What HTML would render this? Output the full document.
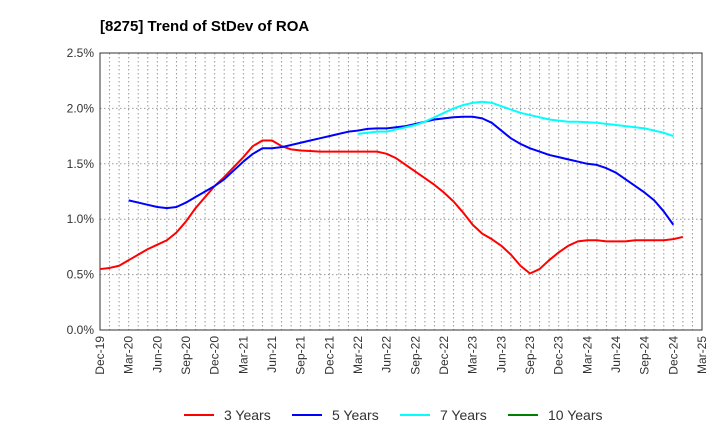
<!DOCTYPE html>
<html><head><meta charset="utf-8"><style>
body{margin:0;background:#fff;}
svg{display:block;font-family:"Liberation Sans",sans-serif;}
</style></head><body>
<svg id="chart" width="720" height="440" viewBox="0 0 720 440">
<text x="100" y="31" font-size="15" font-weight="bold" fill="#000">[8275]  Trend of StDev of ROA</text>
<g id="grid"></g><g id="axes"></g><g id="series"></g><g id="legend"></g>
</svg>
<script>
const xLabels=["Dec-19","Mar-20","Jun-20","Sep-20","Dec-20","Mar-21","Jun-21","Sep-21","Dec-21","Mar-22","Jun-22","Sep-22","Dec-22","Mar-23","Jun-23","Sep-23","Dec-23","Mar-24","Jun-24","Sep-24","Dec-24","Mar-25"];
const yTicks=[0,0.5,1.0,1.5,2.0,2.5];
const seriesNames=["3 Years","5 Years","7 Years","10 Years"];
const seriesColors=["#ff0000","#0000ff","#00ffff","#008000"];
// monthly values starting at Dec-19 (month index 0); start offsets per series
const s3start=0;
const s3=[0.55,0.56,0.58,0.63,0.68,0.73,0.77,0.81,0.88,0.98,1.10,1.20,1.30,1.38,1.47,1.56,1.66,1.71,1.71,1.66,1.63,1.62,1.615,1.61,1.61,1.61,1.61,1.61,1.61,1.61,1.59,1.55,1.49,1.43,1.37,1.31,1.24,1.16,1.06,0.95,0.87,0.82,0.76,0.68,0.58,0.51,0.55,0.63,0.70,0.76,0.80,0.81,0.81,0.80,0.80,0.80,0.81,0.81,0.81,0.81,0.82,0.84];
const s5start=3;
const s5=[1.17,1.15,1.13,1.11,1.10,1.11,1.15,1.20,1.25,1.30,1.36,1.44,1.52,1.59,1.64,1.64,1.65,1.67,1.69,1.71,1.73,1.75,1.77,1.79,1.80,1.815,1.82,1.82,1.83,1.84,1.86,1.88,1.90,1.91,1.92,1.925,1.925,1.91,1.87,1.80,1.73,1.68,1.64,1.61,1.58,1.56,1.54,1.52,1.50,1.49,1.46,1.42,1.36,1.30,1.24,1.17,1.07,0.95];
const s7start=27;
const s7=[1.77,1.78,1.79,1.79,1.81,1.83,1.85,1.88,1.92,1.96,2.00,2.03,2.05,2.06,2.05,2.02,1.99,1.96,1.94,1.92,1.90,1.89,1.88,1.88,1.875,1.87,1.86,1.85,1.84,1.83,1.82,1.80,1.78,1.75];
const s10start=0;
const s10=[];

const L=100,R=702,T=53,B=330,yMax=2.5,nMonths=(xLabels.length-1)*3;
const xm=m=>L+(R-L)*m/nMonths;
const yv=v=>B-(B-T)*v/yMax;
const NS="http://www.w3.org/2000/svg";
function mk(tag,attrs,parent){const e=document.createElementNS(NS,tag);for(const k in attrs)e.setAttribute(k,attrs[k]);parent.appendChild(e);return e;}
const grid=document.getElementById('grid'),axes=document.getElementById('axes'),ser=document.getElementById('series'),leg=document.getElementById('legend');
for(let m=1;m<=nMonths;m++){const g=mk('line',{x1:xm(m),x2:xm(m),y1:T,y2:B,stroke:'#999','stroke-dasharray':'1.5,2.5','stroke-width':1},grid);

}
yTicks.forEach(t=>{const g=mk('line',{x1:L,x2:R,y1:yv(t),y2:yv(t),stroke:'#999','stroke-dasharray':'1.5,2.5','stroke-width':1},grid);


const tx=mk('text',{x:L-6,y:yv(t)+4,'text-anchor':'end','font-size':12,fill:'#333'},axes);


tx.textContent=t.toFixed(1)+'%';});
const fr=mk('rect',{x:L,y:T,width:R-L,height:B-T,fill:'none',stroke:'#333','stroke-width':1},axes);


xLabels.forEach((lb,i)=>{const x=xm(i*3);const tx=mk('text',{transform:`translate(${x+4},${B+6}) rotate(-90)`,'text-anchor':'end','font-size':12,fill:'#333'},axes);


tx.textContent=lb;});
const data=[[s3,s3start],[s5,s5start],[s7,s7start],[s10,s10start]];
data.forEach(([arr,st],i)=>{if(!arr.length)return;const p=mk('polyline',{points:arr.map((v,j)=>xm(st+j)+','+yv(v)).join(' '),fill:'none',stroke:seriesColors[i],'stroke-width':2,'stroke-linejoin':'round'},ser);

});
const lx=[184,292,400,508];
seriesNames.forEach((n,i)=>{const g=mk('g',{},leg);


mk('line',{x1:lx[i],x2:lx[i]+30,y1:415,y2:415,stroke:seriesColors[i],'stroke-width':2},g);
const t=mk('text',{x:lx[i]+40,y:420,'font-size':14,fill:'#333'},g);t.textContent=n;});
</script>
</body></html>
